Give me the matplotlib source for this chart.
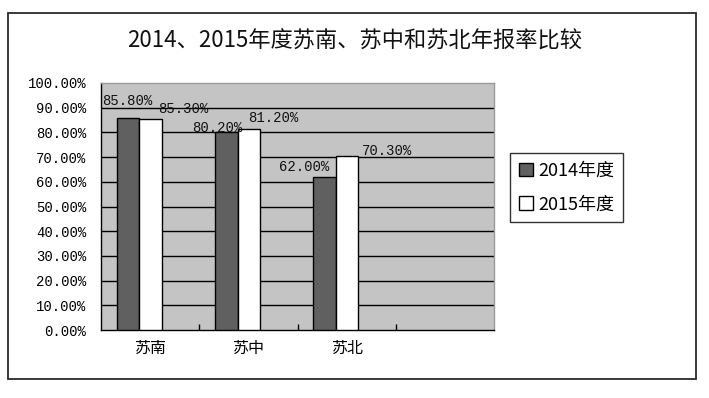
import numpy as np
import matplotlib
matplotlib.use('Agg')
import matplotlib.pyplot as plt
from matplotlib.patches import Rectangle

plt.rcParams['font.family'] = ['Noto Sans CJK SC', 'DejaVu Sans']

# data
regions = ['苏南', '苏中', '苏北']
series_names = ['2014年度', '2015年度']
rate_2014 = [85.8, 80.2, 62.0]
rate_2015 = [85.3, 81.2, 70.3]
yticks = np.arange(0, 101, 10)

# label nudges (pixels) to mimic the original placement
off_2014 = [(-1, 17), (-9, 4), (-20, 10)]
off_2015 = [(33, 10), (24, 11), (40, 5)]

mono = 'Liberation Mono'

fig = plt.figure(figsize=(7.09, 3.98), dpi=100)
fig.patch.set_facecolor('white')

# outer chart frame
fig.add_artist(Rectangle((8 / 709, 1 - 379 / 398), 688 / 709, 366 / 398,
                         transform=fig.transFigure, fill=False,
                         edgecolor='#2a2a2a', linewidth=1.3))

fig.text(0.5, 0.897, '2014、2015年度苏南、苏中和苏北年报率比较',
         ha='center', va='center', fontsize=16, color='#111111')

ax = fig.add_axes([101 / 709, 1 - 330 / 398, 393 / 709, 247 / 398])
ax.set_facecolor('#c4c4c4')

x = np.arange(len(regions)) + 0.5 - 0.11
w = 0.23
b1 = ax.bar(x - w / 2, rate_2014, w, color='#606060', edgecolor='black',
            linewidth=1, zorder=3, label=series_names[0])
b2 = ax.bar(x + w / 2, rate_2015, w, color='white', edgecolor='black',
            linewidth=1, zorder=3, label=series_names[1])

for bars, vals, offs in [(b1, rate_2014, off_2014), (b2, rate_2015, off_2015)]:
    for bar, v, (dx, dy) in zip(bars, vals, offs):
        ax.annotate(f'{v:.2f}%', (bar.get_x() + bar.get_width() / 2, v),
                    xytext=(dx, dy), textcoords='offset pixels',
                    ha='center', va='center', fontsize=10, family=mono,
                    color='#111111', zorder=4)

for yv in yticks[1:-1]:
    ax.axhline(yv, color='black', linewidth=1, zorder=1)

ax.set_xlim(0, 4)
ax.set_ylim(0, 100)
ax.set_yticks(yticks)
ax.set_yticklabels([f'{v:.2f}%' for v in yticks], family=mono, fontsize=10)
ax.tick_params(axis='y', length=0, pad=10.5)

ax.set_xticks(np.arange(len(regions)) + 0.5)
ax.set_xticklabels(regions, fontsize=11.5)
ax.set_xticks([1, 2, 3], minor=True)
ax.tick_params(axis='x', which='major', length=0, pad=7)
ax.tick_params(axis='x', which='minor', direction='in', length=4, width=1)

ax.spines['left'].set_color('black')
ax.spines['bottom'].set_color('black')
ax.spines['top'].set_color('#9a9a9a')
ax.spines['right'].set_color('#9a9a9a')
for s in ax.spines.values():
    s.set_linewidth(1)

leg = ax.legend(loc='upper left', bbox_to_anchor=(510 / 709, 1 - 153 / 398),
                bbox_transform=fig.transFigure, borderaxespad=0,
                fancybox=False, frameon=True, fontsize=13,
                handlelength=0.75, handleheight=0.75, handletextpad=0.3,
                labelspacing=0.85, borderpad=0.5)
leg.get_frame().set_edgecolor('black')
leg.get_frame().set_linewidth(1)

fig.savefig('out.png', dpi=100)
